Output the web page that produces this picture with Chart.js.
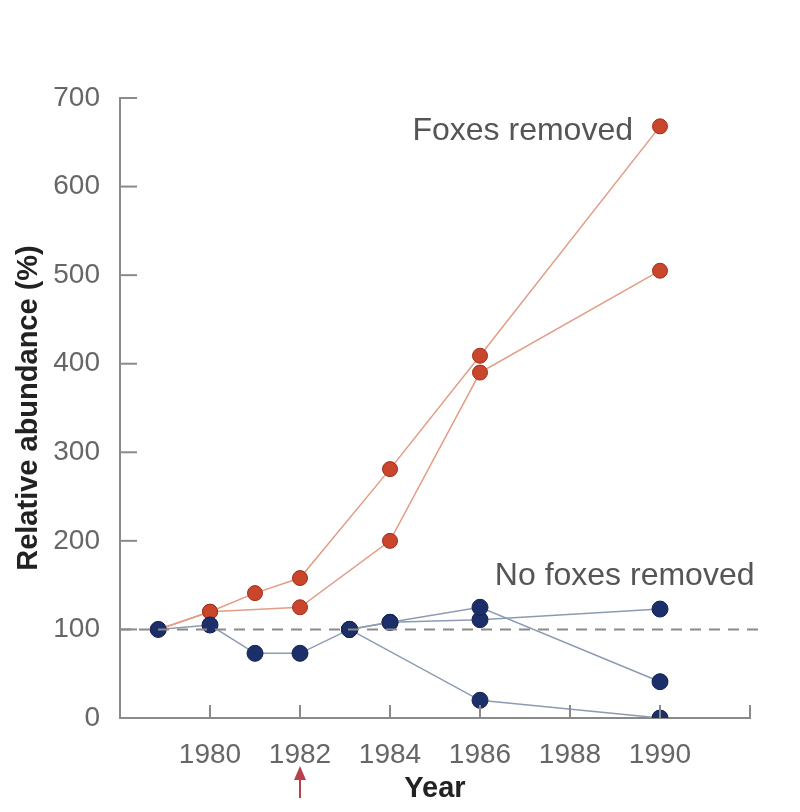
<!DOCTYPE html>
<html lang="en">
  <head>
    <meta charset="UTF-8" />
    <title>Relative abundance</title>
    <style>
      body {
        margin: 0;
        background-color: #ffffff;
      }
      .container {
        width: 800px;
        height: 812px;
      }
    </style>
  </head>
  <body>
    <div class="container">
      <canvas id="myChart" width="800" height="812"></canvas>
    </div>

    <script src="https://cdn.jsdelivr.net/npm/chart.js"></script>
    <script>
      // Foxes removed (red)
      const foxYearsA = [1978.85, 1980, 1981, 1982, 1984, 1986, 1990];
      const foxValuesA = [100, 120, 141, 158, 281, 409, 668];
      const foxYearsB = [1978.85, 1980, 1982, 1984, 1986, 1990];
      const foxValuesB = [100, 120, 125, 200, 390, 505];

      // No foxes removed (blue)
      const noFoxYearsA = [1978.85, 1980, 1981, 1982, 1983.1, 1984, 1986, 1990];
      const noFoxValuesA = [100, 105, 73, 73, 100, 108, 125, 41];
      const noFoxYearsB = [1983.1, 1984, 1986, 1990];
      const noFoxValuesB = [100, 108, 111, 123];
      const noFoxYearsC = [1983.1, 1986, 1990];
      const noFoxValuesC = [100, 20, 0];

      const baseline = 100;
      const xTickLabels = [1980, 1982, 1984, 1986, 1988, 1990];

      function toPoints(xs, ys) {
        return xs.map((x, i) => ({ x: x, y: ys[i] }));
      }

      const red = { line: "#e39c84", fill: "#c9452c", edge: "#a02e1c", r: 7.5 };
      const blue = { line: "#8c9bb2", fill: "#1c2f6b", edge: "#14224f", r: 8 };
      const font = "'Liberation Sans', Arial, sans-serif";

      function series(xs, ys, c) {
        return {
          data: toPoints(xs, ys),
          showLine: true,
          borderColor: c.line,
          borderWidth: 1.5,
          pointRadius: c.r,
          pointBackgroundColor: c.fill,
          pointBorderColor: c.edge,
          pointBorderWidth: 1,
        };
      }

      // ticks drawn inward, labels and arrow
      const extras = {
        id: "extras",
        afterDraw(chart) {
          const ctx = chart.ctx;
          const xs = chart.scales.x;
          const ys = chart.scales.y;
          const area = chart.chartArea;
          ctx.save();
          ctx.strokeStyle = "#8a8a8a";
          ctx.lineWidth = 2;
          for (let v = 100; v <= 700; v += 100) {
            const py = ys.getPixelForValue(v);
            ctx.beginPath();
            ctx.moveTo(area.left, py);
            ctx.lineTo(area.left + 17, py);
            ctx.stroke();
          }
          for (let v = 1980; v <= 1992; v += 2) {
            const px = xs.getPixelForValue(v);
            ctx.beginPath();
            ctx.moveTo(px, area.bottom);
            ctx.lineTo(px, area.bottom - 13);
            ctx.stroke();
          }

          ctx.fillStyle = "#555";
          ctx.font = "32px " + font;
          ctx.textAlign = "right";
          ctx.textBaseline = "middle";
          ctx.fillText("Foxes removed", xs.getPixelForValue(1989.4), ys.getPixelForValue(663));
          ctx.fillText("No foxes removed", xs.getPixelForValue(1992.1), ys.getPixelForValue(160));

          // arrow under 1982
          const ax = xs.getPixelForValue(1982);
          ctx.strokeStyle = "#b8404c";
          ctx.fillStyle = "#b8404c";
          ctx.lineWidth = 2;
          ctx.beginPath();
          ctx.moveTo(ax, 798);
          ctx.lineTo(ax, 776);
          ctx.stroke();
          ctx.beginPath();
          ctx.moveTo(ax, 766);
          ctx.lineTo(ax - 6, 780);
          ctx.lineTo(ax + 6, 780);
          ctx.closePath();
          ctx.fill();
          ctx.restore();
        },
      };

      const config = {
        type: "scatter",
        data: {
          datasets: [
            {
              data: toPoints([1978, 1992.3], [baseline, baseline]),
              showLine: true,
              borderColor: "#8a8a8a",
              borderWidth: 2,
              borderDash: [11, 8],
              pointRadius: 0,
              clip: false,
            },
            series(noFoxYearsA, noFoxValuesA, blue),
            series(noFoxYearsB, noFoxValuesB, blue),
            series(noFoxYearsC, noFoxValuesC, blue),
            series(foxYearsA, foxValuesA, red),
            series(foxYearsB, foxValuesB, red),
          ],
        },
        options: {
          responsive: false,
          animation: false,
          layout: {
            padding: { left: 12, right: 50, top: 98, bottom: 0 },
          },
          plugins: {
            legend: { display: false },
            tooltip: { enabled: false },
          },
          scales: {
            x: {
              type: "linear",
              min: 1978,
              max: 1992,
              afterFit: (scale) => {
                scale.height = 94;
              },
              grid: { display: false, drawTicks: false },
              border: { display: true, color: "#8a8a8a", width: 2 },
              ticks: {
                stepSize: 2,
                padding: 20,
                color: "#666",
                font: { family: font, size: 28 },
                callback: (v) => (xTickLabels.includes(v) ? String(v) : ""),
              },
              title: {
                display: true,
                text: "Year",
                color: "#222",
                padding: { top: 0, bottom: 6 },
                font: { family: font, size: 29, weight: "bold" },
              },
            },
            y: {
              min: 0,
              max: 700,
              afterFit: (scale) => {
                scale.width = 108;
              },
              grid: { display: false, drawTicks: false },
              border: { display: true, color: "#8a8a8a", width: 2 },
              ticks: {
                stepSize: 100,
                padding: 20,
                color: "#666",
                font: { family: font, size: 28 },
              },
              title: {
                display: true,
                text: "Relative abundance (%)",
                color: "#222",
                padding: { top: 0, bottom: 0 },
                font: { family: font, size: 29, weight: "bold" },
              },
            },
          },
        },
        plugins: [extras],
      };

      new Chart(document.getElementById("myChart"), config);
    </script>
  </body>
</html>
